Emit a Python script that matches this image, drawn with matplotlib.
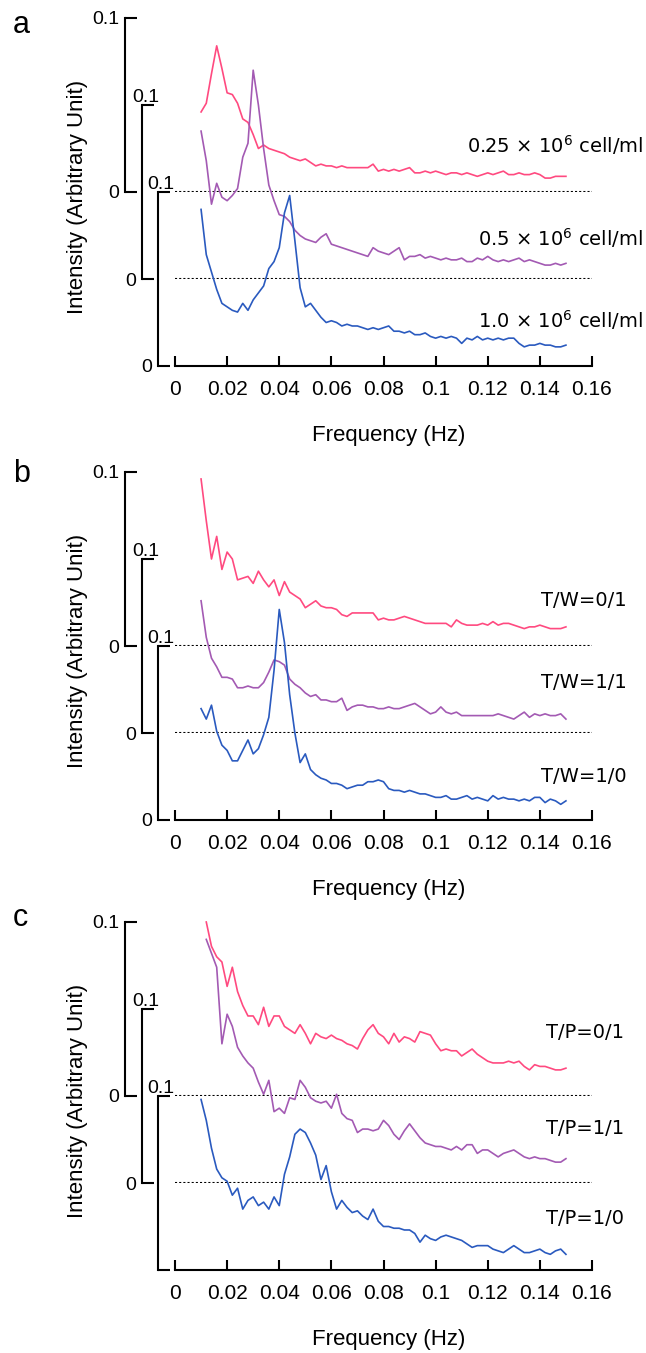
import numpy as np
import matplotlib
matplotlib.use("Agg")
from matplotlib import pyplot as plt

plt.rcParams["font.family"] = ["Liberation Sans", "DejaVu Sans"]

# frequency grid (Hz), same for every trace
freq = np.round(np.arange(0.010, 0.1505, 0.002), 3)

nan = np.nan

# ---------------- panel a : cell density ----------------
a_pink = [0.046, 0.051, 0.068, 0.084, 0.071, 0.057, 0.056, 0.051, 0.042, 0.040,
          0.033, 0.025, 0.027, 0.025, 0.024, 0.023, 0.022, 0.020, 0.019, 0.018,
          0.019, 0.017, 0.015, 0.016, 0.015, 0.015, 0.014, 0.015, 0.014, 0.014,
          0.014, 0.014, 0.014, 0.016, 0.012, 0.013, 0.012, 0.013, 0.012, 0.013,
          0.014, 0.011, 0.011, 0.012, 0.011, 0.012, 0.011, 0.010, 0.011, 0.011,
          0.010, 0.011, 0.010, 0.009, 0.010, 0.011, 0.010, 0.011, 0.012, 0.010,
          0.010, 0.011, 0.010, 0.010, 0.011, 0.010, 0.008, 0.008, 0.009, 0.009,
          0.009]
a_purple = [0.085, 0.068, 0.043, 0.055, 0.047, 0.045, 0.048, 0.052, 0.070, 0.078,
            0.120, 0.100, 0.075, 0.054, 0.045, 0.037, 0.036, 0.033, 0.028, 0.025,
            0.023, 0.022, 0.021, 0.024, 0.026, 0.020, 0.019, 0.018, 0.017, 0.016,
            0.015, 0.014, 0.013, 0.018, 0.016, 0.015, 0.014, 0.016, 0.018, 0.011,
            0.013, 0.013, 0.014, 0.012, 0.013, 0.012, 0.011, 0.012, 0.011, 0.011,
            0.012, 0.010, 0.010, 0.012, 0.011, 0.013, 0.011, 0.010, 0.011, 0.010,
            0.011, 0.012, 0.010, 0.011, 0.010, 0.009, 0.008, 0.008, 0.009, 0.008,
            0.009]
a_blue = [0.090, 0.064, 0.054, 0.044, 0.036, 0.034, 0.032, 0.031, 0.036, 0.032,
          0.038, 0.042, 0.046, 0.056, 0.060, 0.068, 0.088, 0.098, 0.072, 0.045,
          0.034, 0.036, 0.032, 0.028, 0.025, 0.026, 0.025, 0.023, 0.024, 0.023,
          0.023, 0.022, 0.021, 0.022, 0.021, 0.022, 0.023, 0.020, 0.020, 0.019,
          0.020, 0.018, 0.018, 0.019, 0.017, 0.016, 0.017, 0.016, 0.017, 0.016,
          0.013, 0.016, 0.015, 0.017, 0.015, 0.016, 0.015, 0.016, 0.015, 0.016,
          0.016, 0.013, 0.011, 0.012, 0.012, 0.013, 0.012, 0.012, 0.011, 0.011,
          0.012]

# ---------------- panel b : T/W ----------------
b_pink = [0.096, 0.072, 0.050, 0.063, 0.044, 0.054, 0.050, 0.038, 0.039, 0.040,
          0.036, 0.043, 0.038, 0.034, 0.038, 0.029, 0.037, 0.031, 0.029, 0.027,
          0.022, 0.024, 0.026, 0.023, 0.022, 0.022, 0.021, 0.018, 0.017, 0.019,
          0.019, 0.019, 0.019, 0.019, 0.015, 0.016, 0.015, 0.015, 0.016, 0.017,
          0.016, 0.015, 0.014, 0.013, 0.013, 0.013, 0.013, 0.013, 0.011, 0.015,
          0.013, 0.012, 0.012, 0.012, 0.013, 0.012, 0.014, 0.012, 0.013, 0.013,
          0.012, 0.011, 0.010, 0.011, 0.011, 0.012, 0.011, 0.010, 0.010, 0.010,
          0.011]
b_purple = [0.076, 0.055, 0.043, 0.038, 0.032, 0.032, 0.031, 0.026, 0.026, 0.027,
            0.026, 0.026, 0.029, 0.035, 0.042, 0.041, 0.039, 0.031, 0.028, 0.026,
            0.023, 0.021, 0.022, 0.019, 0.019, 0.018, 0.018, 0.020, 0.013, 0.015,
            0.016, 0.016, 0.015, 0.015, 0.014, 0.014, 0.015, 0.014, 0.014, 0.015,
            0.016, 0.017, 0.015, 0.013, 0.011, 0.012, 0.015, 0.012, 0.011, 0.012,
            0.010, 0.010, 0.010, 0.010, 0.010, 0.010, 0.010, 0.011, 0.010, 0.009,
            0.008, 0.010, 0.012, 0.009, 0.011, 0.010, 0.011, 0.010, 0.010, 0.011,
            0.008]
b_blue = [0.064, 0.058, 0.066, 0.051, 0.043, 0.040, 0.034, 0.034, 0.040, 0.046,
          0.038, 0.041, 0.049, 0.059, 0.086, 0.121, 0.102, 0.072, 0.050, 0.033,
          0.038, 0.029, 0.026, 0.024, 0.023, 0.021, 0.021, 0.020, 0.018, 0.019,
          0.020, 0.020, 0.022, 0.022, 0.023, 0.022, 0.018, 0.017, 0.017, 0.016,
          0.017, 0.016, 0.015, 0.015, 0.014, 0.013, 0.013, 0.014, 0.012, 0.012,
          0.013, 0.014, 0.012, 0.013, 0.012, 0.011, 0.014, 0.012, 0.013, 0.012,
          0.012, 0.011, 0.012, 0.011, 0.013, 0.013, 0.010, 0.012, 0.011, 0.009,
          0.011]

# ---------------- panel c : T/P ----------------
c_pink = [nan, 0.100, 0.086, 0.080, 0.077, 0.063, 0.074, 0.060, 0.052, 0.046,
          0.046, 0.041, 0.051, 0.040, 0.046, 0.046, 0.040, 0.038, 0.036, 0.041,
          0.036, 0.030, 0.036, 0.034, 0.033, 0.035, 0.033, 0.032, 0.030, 0.029,
          0.027, 0.033, 0.038, 0.041, 0.036, 0.034, 0.030, 0.036, 0.031, 0.034,
          0.033, 0.031, 0.037, 0.036, 0.035, 0.030, 0.026, 0.027, 0.026, 0.026,
          0.023, 0.025, 0.027, 0.024, 0.022, 0.020, 0.019, 0.019, 0.019, 0.020,
          0.019, 0.020, 0.017, 0.015, 0.018, 0.017, 0.017, 0.016, 0.015, 0.015,
          0.016]
c_purple = [nan, 0.140, 0.132, 0.124, 0.080, 0.097, 0.090, 0.078, 0.073, 0.069,
            0.066, 0.058, 0.051, 0.059, 0.041, 0.043, 0.040, 0.049, 0.048, 0.059,
            0.055, 0.049, 0.047, 0.046, 0.047, 0.043, 0.051, 0.040, 0.037, 0.036,
            0.029, 0.031, 0.031, 0.030, 0.031, 0.036, 0.033, 0.028, 0.025, 0.030,
            0.034, 0.030, 0.026, 0.023, 0.022, 0.021, 0.021, 0.020, 0.019, 0.021,
            0.019, 0.022, 0.022, 0.017, 0.019, 0.019, 0.017, 0.015, 0.017, 0.018,
            0.019, 0.017, 0.015, 0.014, 0.015, 0.014, 0.014, 0.013, 0.012, 0.012,
            0.014]
c_blue = [0.098, 0.086, 0.070, 0.058, 0.053, 0.051, 0.043, 0.047, 0.035, 0.040,
          0.042, 0.037, 0.039, 0.035, 0.042, 0.037, 0.055, 0.065, 0.078, 0.081,
          0.079, 0.073, 0.066, 0.052, 0.060, 0.045, 0.035, 0.040, 0.036, 0.033,
          0.034, 0.031, 0.029, 0.035, 0.028, 0.025, 0.025, 0.024, 0.024, 0.023,
          0.023, 0.021, 0.016, 0.020, 0.018, 0.017, 0.019, 0.020, 0.019, 0.018,
          0.017, 0.015, 0.013, 0.014, 0.014, 0.014, 0.012, 0.011, 0.010, 0.012,
          0.014, 0.012, 0.010, 0.010, 0.011, 0.012, 0.010, 0.009, 0.011, 0.012,
          0.009]

a_labels = ["0.25 × 10$^{6}$ cell/ml", "0.5 × 10$^{6}$ cell/ml", "1.0 × 10$^{6}$ cell/ml"]
b_labels = ["T/W=0/1", "T/W=1/1", "T/W=1/0"]
c_labels = ["T/P=0/1", "T/P=1/1", "T/P=1/0"]

xticks = [0, 0.02, 0.04, 0.06, 0.08, 0.1, 0.12, 0.14, 0.16]
xticklabels = ["0", "0.02", "0.04", "0.06", "0.08", "0.1", "0.12", "0.14", "0.16"]

colors = ["#ff4a80", "#a35ab3", "#2a5abf"]

W, H = 646, 1353
PX = 72 / 100  # points per pixel at dpi 100

fig = plt.figure(figsize=(W / 100, H / 100), dpi=100)
fig.patch.set_facecolor("white")

panels = [
    dict(letter="a", letter_y=33, base=366, series=[a_pink, a_purple, a_blue],
         labels=a_labels, lab_x=643, lab_y=[145, 238, 320], bottom_zero=True),
    dict(letter="b", letter_y=482, base=820, series=[b_pink, b_purple, b_blue],
         labels=b_labels, lab_x=627, lab_y=[600, 682, 777], bottom_zero=True),
    dict(letter="c", letter_y=926, base=1270, series=[c_pink, c_purple, c_blue],
         labels=c_labels, lab_x=624, lab_y=[1032, 1128, 1218], bottom_zero=False),
]

shift = [174, 87, 0]     # px between each trace's zero and the panel base
outward = [50, 33, 17]   # px of left spine offset
ann_dx = [0, 43, 28]     # px from plot left to the "0.1" text for lower axes

for p in panels:
    base = p["base"]
    for k in range(3):
        zero_px = base - shift[k]
        ax = fig.add_axes([175 / W, 1 - zero_px / H, 417 / W, 174 / H])
        ax.patch.set_visible(False)
        ax.set_xlim(0, 0.16)
        ax.set_ylim(0, 0.1)
        for s in ["top", "right"]:
            ax.spines[s].set_visible(False)
        ax.spines["left"].set_position(("outward", outward[k] * PX))
        ax.spines["left"].set_linewidth(1.5)
        ax.spines["bottom"].set_linewidth(1.5)

        ax.plot(freq, p["series"][k], color=colors[k], lw=1.2, clip_on=False, zorder=3)

        ax.set_yticks([0, 0.1])
        lab0 = "0" if (k < 2 or p["bottom_zero"]) else ""
        if k == 0:
            ax.set_yticklabels([lab0, "0.1"])
        else:
            ax.set_yticklabels([lab0, ""])
            ax.annotate("0.1", xy=(0, 0.1), xycoords=ax.get_yaxis_transform(),
                        xytext=(-ann_dx[k] * PX, 3 * PX), textcoords="offset points",
                        ha="left", va="baseline", fontsize=14)
        ax.tick_params(axis="y", direction="in", length=12 * PX, width=1.5,
                       pad=4, labelsize=14)

        if k < 2:
            ax.spines["bottom"].set_visible(False)
            ax.set_xticks([])
            ax.axhline(0, color="black", ls=(0, (1, 1)), lw=1.5, zorder=2)
        else:
            ax.set_xticks(xticks)
            ax.set_xticklabels(xticklabels)
            ax.tick_params(axis="x", direction="in", length=10 * PX, width=1.5,
                           pad=14 * PX, labelsize=15)

        fig.text(p["lab_x"] / W, 1 - p["lab_y"][k] / H, p["labels"][k],
                 ha="right", va="center", fontsize=14, family="DejaVu Sans")

    fig.text(77 / W, 1 - (base - 169) / H, "Intensity (Arbitrary Unit)",
             rotation=90, ha="center", va="center", fontsize=16)
    fig.text(389 / W, 1 - (base + 70) / H, "Frequency (Hz)",
             ha="center", va="center", fontsize=16)
    fig.text(13 / W, 1 - p["letter_y"] / H, p["letter"],
             ha="left", va="baseline", fontsize=22)

fig.savefig("out.png", dpi=100)
